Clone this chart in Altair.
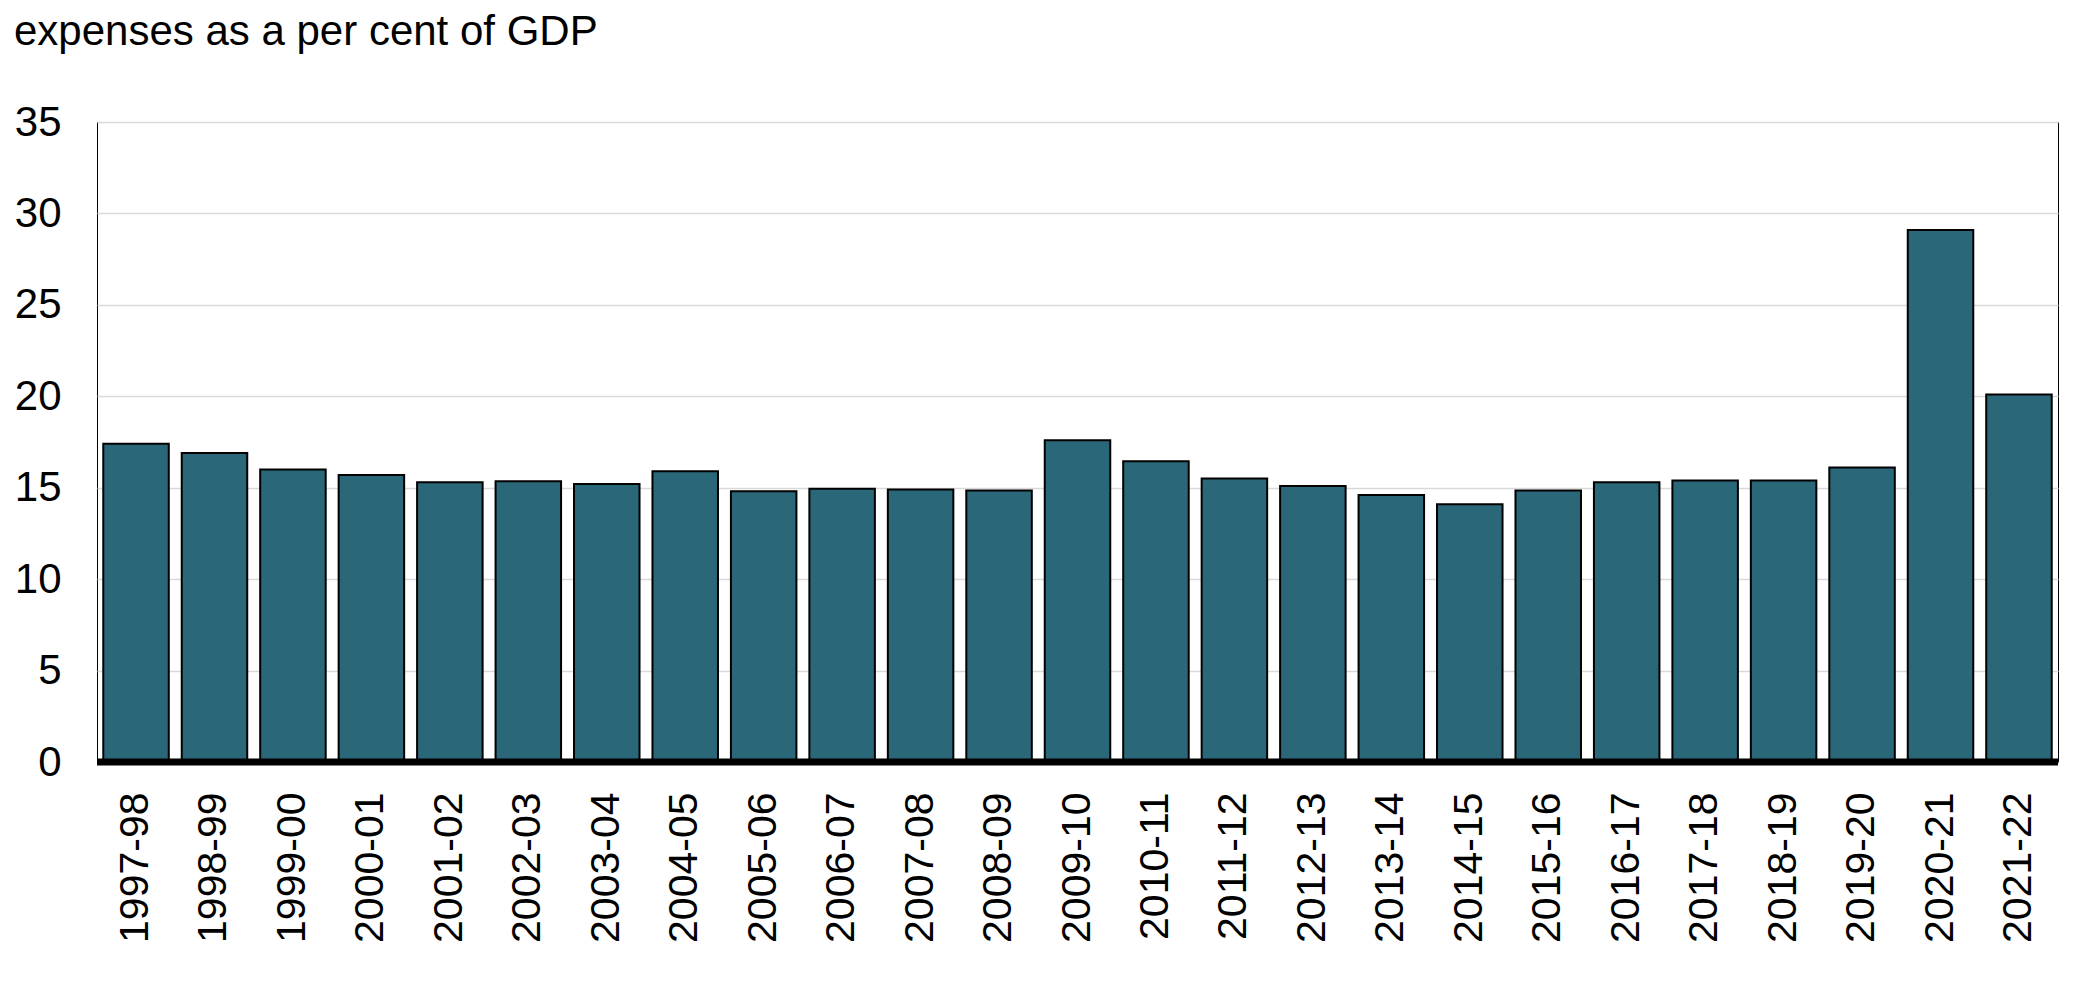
import altair as alt
import pandas as pd

years = ["1997-98", "1998-99", "1999-00", "2000-01", "2001-02", "2002-03", "2003-04",
         "2004-05", "2005-06", "2006-07", "2007-08", "2008-09", "2009-10", "2010-11",
         "2011-12", "2012-13", "2013-14", "2014-15", "2015-16", "2016-17", "2017-18",
         "2018-19", "2019-20", "2020-21", "2021-22"]
expenses = [17.4, 16.9, 16.0, 15.7, 15.3, 15.35, 15.2,
            15.9, 14.8, 14.95, 14.9, 14.85, 17.6, 16.45,
            15.5, 15.1, 14.6, 14.1, 14.85, 15.3, 15.4,
            15.4, 16.1, 29.1, 20.1]
y_ticks = [0, 5, 10, 15, 20, 25, 30, 35]
title_text = "expenses as a per cent of GDP"

df = pd.DataFrame({"year": years, "value": expenses})

FONT = "Liberation Sans"

bars = alt.Chart(df).mark_bar(
    color="#2a6779", stroke="#000000", strokeWidth=2
).encode(
    x=alt.X("year:N", sort=years, title=None,
            scale=alt.Scale(paddingInner=0.165, paddingOuter=0.08),
            axis=alt.Axis(labelAngle=270, labelFontSize=41, labelFont=FONT,
                          labelColor="#000000", ticks=False, domain=False,
                          labelPadding=30, grid=False, labelLimit=400)),
    y=alt.Y("value:Q", title=None,
            scale=alt.Scale(domain=[0, 35], nice=False),
            axis=alt.Axis(values=y_ticks, labelFontSize=42, labelFont=FONT,
                          labelColor="#000000", ticks=False, domain=False,
                          labelPadding=36, grid=True, gridColor="#d9d9d9",
                          gridWidth=1.5))
)

zero = alt.Chart(pd.DataFrame({"z": [0]})).mark_rule(
    color="#000000", strokeWidth=7
).encode(y="z:Q")

title = alt.Chart(pd.DataFrame({"t": [title_text]})).mark_text(
    align="left", baseline="alphabetic", fontSize=42, font=FONT, color="#000000"
).encode(text="t:N", x=alt.value(-83), y=alt.value(-77))

chart = alt.layer(bars, zero, title).properties(
    width=1961, height=640,
    padding={"left": 89, "top": 114, "right": 20, "bottom": 220},
    autosize=alt.AutoSizeParams(type="none"),
).configure_view(stroke="#000000", strokeWidth=1)

chart.save("out.html", embed_options={"renderer": "svg", "actions": False})
